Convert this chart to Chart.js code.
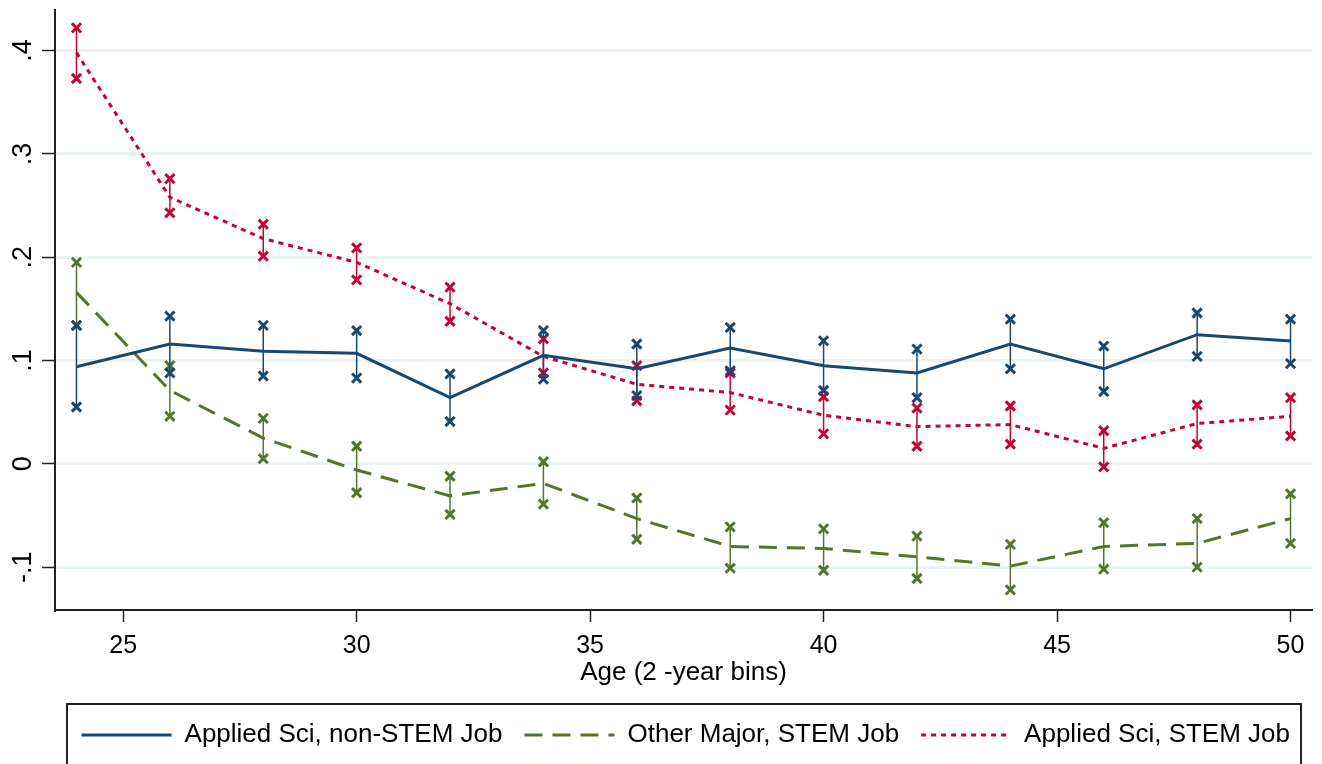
<!DOCTYPE html>
<html>
<head>
<meta charset="utf-8">
<script src="https://cdn.jsdelivr.net/npm/chart.js@4"></script>
<style>
  html, body { margin: 0; padding: 0; background: #fff; }
  #wrap { width: 1322px; height: 764px; position: relative; }
</style>
</head>
<body>
<div id="wrap"><canvas id="ageChart"></canvas></div>
<script>
// Data (2-year age bins)
const ages = [24, 26, 28, 30, 32, 34, 36, 38, 40, 42, 44, 46, 48, 50];

const nonStemMean = [0.094, 0.116, 0.109, 0.107, 0.064, 0.105, 0.092, 0.112, 0.095, 0.088, 0.116, 0.092, 0.125, 0.119];
const nonStemLow  = [0.055, 0.088, 0.085, 0.083, 0.041, 0.082, 0.066, 0.090, 0.071, 0.064, 0.092, 0.070, 0.104, 0.097];
const nonStemHigh = [0.134, 0.143, 0.134, 0.129, 0.087, 0.129, 0.116, 0.132, 0.119, 0.111, 0.140, 0.114, 0.146, 0.140];

const otherMean = [0.166, 0.071, 0.025, -0.006, -0.031, -0.019, -0.053, -0.080, -0.082, -0.090, -0.099, -0.080, -0.077, -0.053];
const otherLow  = [0.134, 0.046, 0.005, -0.028, -0.049, -0.039, -0.073, -0.101, -0.103, -0.111, -0.122, -0.102, -0.100, -0.077];
const otherHigh = [0.195, 0.095, 0.044, 0.017, -0.012, 0.002, -0.033, -0.061, -0.063, -0.070, -0.078, -0.057, -0.053, -0.029];

const stemMean = [0.398, 0.258, 0.218, 0.195, 0.155, 0.104, 0.077, 0.069, 0.047, 0.036, 0.038, 0.015, 0.039, 0.046];
const stemLow  = [0.373, 0.243, 0.201, 0.178, 0.138, 0.088, 0.061, 0.052, 0.029, 0.017, 0.019, -0.003, 0.019, 0.027];
const stemHigh = [0.422, 0.276, 0.232, 0.209, 0.171, 0.121, 0.095, 0.088, 0.065, 0.054, 0.056, 0.032, 0.057, 0.064];

const seriesNames = ['Applied Sci, non-STEM Job', 'Other Major, STEM Job', 'Applied Sci, STEM Job'];
const xTicks = [25, 30, 35, 40, 45, 50];
const yTicks = [-0.1, 0, 0.1, 0.2, 0.3, 0.4];

const BLUE = '#1a476f';
const GREEN = '#55752f';
const RED = '#c10534';
const FONT = '"Liberation Sans", Arial, Helvetica, sans-serif';

function meanLine(label, values, color, dash) {
    return {
        type: 'line',
        label: label,
        data: ages.map((a, i) => ({ x: a, y: values[i] })),
        borderColor: color,
        backgroundColor: color,
        borderWidth: 3,
        borderDash: dash,
        pointRadius: 0,
        tension: 0,
        fill: false
    };
}

// vertical CI bars: low -> high, then a gap
function ciBars(low, high, color) {
    let pts = [];
    ages.forEach((a, i) => {
        pts.push({ x: a, y: low[i] });
        pts.push({ x: a, y: high[i] });
        pts.push({ x: a, y: null });
    });
    return {
        type: 'line',
        data: pts,
        borderColor: color,
        backgroundColor: color,
        borderWidth: 1.5,
        spanGaps: false,
        pointStyle: 'crossRot',
        pointRadius: 6.5,
        pointBorderWidth: 3,
        pointBorderColor: color,
        pointHoverRadius: 6.5,
        fill: false
    };
}

// box round the legend, as in the original figure
const legendBox = {
    id: 'legendBox',
    afterDraw(chart) {
        const lg = chart.legend;
        const ctx = chart.ctx;
        ctx.save();
        ctx.strokeStyle = '#222';
        ctx.lineWidth = 2;
        ctx.strokeRect(lg.left + 12, lg.top + 4, lg.right - lg.left - 23, 80);
        ctx.restore();
    }
};

new Chart(document.getElementById('ageChart'), {
    type: 'line',
    data: {
        datasets: [
            meanLine(seriesNames[0], nonStemMean, BLUE, []),
            meanLine(seriesNames[1], otherMean, GREEN, [18, 10]),
            meanLine(seriesNames[2], stemMean, RED, [5, 5]),
            ciBars(nonStemLow, nonStemHigh, BLUE),
            ciBars(otherLow, otherHigh, GREEN),
            ciBars(stemLow, stemHigh, RED)
        ]
    },
    options: {
        responsive: true,
        maintainAspectRatio: false,
        animation: false,
        layout: {
            padding: { top: 0, right: 10, bottom: 6, left: 0 }
        },
        plugins: {
            tooltip: { enabled: false },
            legend: {
                position: 'bottom',
                fullSize: false,
                align: 'end',
                labels: {
                    usePointStyle: true,
                    pointStyle: 'line',
                    pointStyleWidth: 90,
                    padding: 22,
                    color: '#000',
                    font: { family: FONT, size: 26 },
                    generateLabels: function (chart) {
                        const items = Chart.defaults.plugins.legend.labels.generateLabels(chart);
                        return items.filter(it => it.datasetIndex < 3).map(it => {
                            const ds = chart.data.datasets[it.datasetIndex];
                            it.lineDash = ds.borderDash;
                            it.lineWidth = 3;
                            it.strokeStyle = ds.borderColor;
                            it.pointStyle = 'line';
                            return it;
                        });
                    }
                }
            }
        },
        scales: {
            x: {
                type: 'linear',
                min: 23.54,
                max: 50.46,
                afterBuildTicks: (scale) => { scale.ticks = xTicks.map(v => ({ value: v })); },
                afterFit: (scale) => {
                    scale.height = 90;
                    scale.paddingLeft = 0;
                    scale.paddingRight = 0;
                },
                grid: {
                    drawOnChartArea: false,
                    drawTicks: true,
                    tickLength: 12,
                    tickColor: '#222',
                    tickWidth: 1.5
                },
                border: { display: true, color: '#222', width: 2 },
                ticks: {
                    padding: 9,
                    color: '#000',
                    maxRotation: 0,
                    font: { family: FONT, size: 25 },
                    callback: (v) => String(v)
                },
                title: {
                    display: true,
                    text: 'Age (2 -year bins)',
                    color: '#000',
                    font: { family: FONT, size: 26 },
                    padding: { top: 0, bottom: 12 }
                }
            },
            y: {
                type: 'linear',
                min: -0.1415,
                max: 0.4398,
                afterBuildTicks: (scale) => { scale.ticks = yTicks.map(v => ({ value: v })); },
                afterFit: (scale) => {
                    scale.width = 55;
                    scale.paddingTop = 0;
                    scale.paddingBottom = 0;
                },
                grid: {
                    color: '#eaf2f3',
                    lineWidth: 3,
                    drawTicks: true,
                    tickLength: 13,
                    tickColor: '#222',
                    tickWidth: 1.5
                },
                border: { display: true, color: '#222', width: 2 },
                ticks: {
                    minRotation: 90,
                    maxRotation: 90,
                    crossAlign: 'center',
                    padding: 3,
                    color: '#000',
                    font: { family: FONT, size: 27 },
                    callback: function (value) {
                        let v = Math.round(value * 10) / 10;
                        if (v === 0) return '0';
                        return String(v).replace('0.', '.');
                    }
                }
            }
        }
    },
    plugins: [legendBox]
});
</script>
</body>
</html>
